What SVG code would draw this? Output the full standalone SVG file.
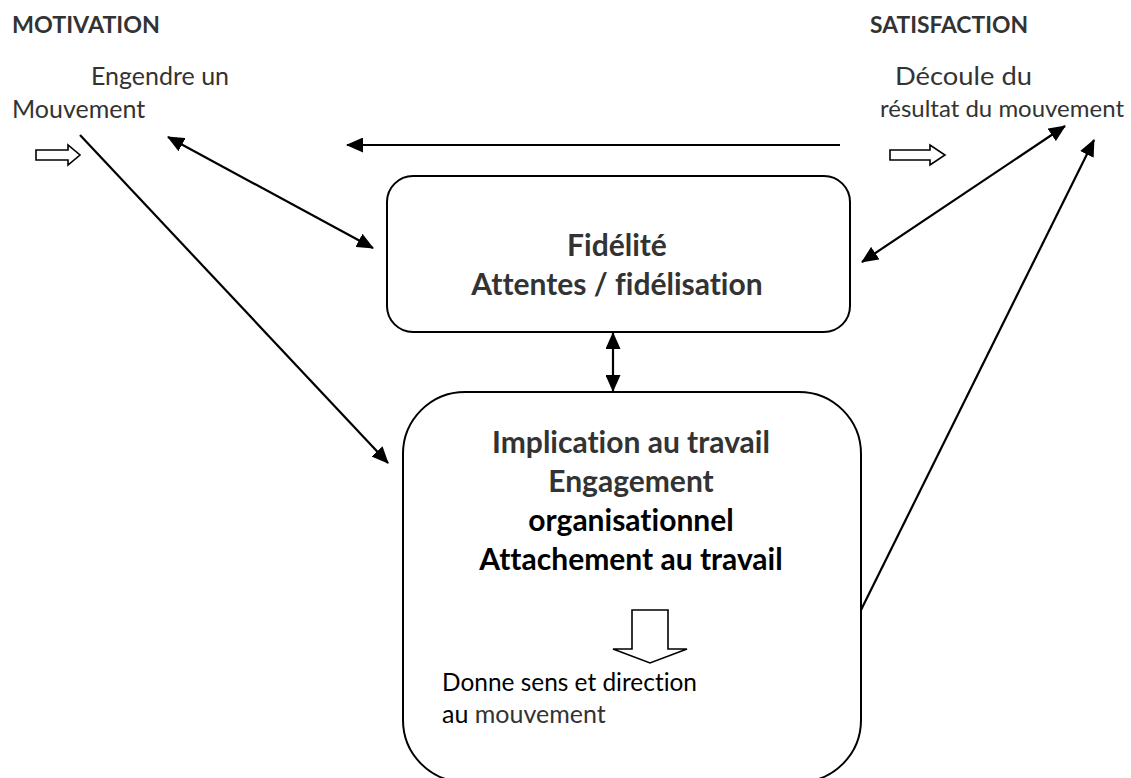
<svg xmlns="http://www.w3.org/2000/svg" width="1131" height="778" viewBox="0 0 1131 778">
<defs>
<marker id="ah" markerUnits="userSpaceOnUse" markerWidth="17" markerHeight="15" refX="16" refY="7.5" orient="auto-start-reverse" viewBox="0 0 17 15">
<path d="M0,0 L17,7.5 L0,15 z" fill="#000"/>
</marker>
</defs>
<style>
text{font-family:Lato,"Open Sans","Liberation Sans",sans-serif;font-variant-ligatures:none}
.h{font-weight:bold;font-size:23.5px;fill:#333}
.r{font-size:25px;fill:#333}
.s{font-size:23.5px}
.b{font-weight:bold;font-size:30px;text-anchor:middle}
.g{fill:#333}
.k{fill:#000}
.box{fill:#fff;stroke:#000;stroke-width:2}
.hollow{fill:#fff;stroke:#000;stroke-width:1.6}
.c{stroke:#000;stroke-width:2.2;fill:none}
</style>
<rect width="1131" height="778" fill="#fff"/>
<g id="motivation">
<text class="h" x="12" y="33" textLength="148" lengthAdjust="spacingAndGlyphs">MOTIVATION</text>
<text class="r" x="91" y="85">Engendre un</text>
<text class="r" x="12" y="118">Mouvement</text>
<polygon class="hollow" points="36,150 68,150 68,145 80,155 68,165 68,160 36,160"/>
</g>
<g id="satisfaction">
<text class="h" x="870" y="33" textLength="158" lengthAdjust="spacingAndGlyphs">SATISFACTION</text>
<text class="r" x="895" y="85" textLength="137" lengthAdjust="spacingAndGlyphs">Découle du</text>
<text class="r s" x="880" y="117" textLength="244" lengthAdjust="spacingAndGlyphs">résultat du mouvement</text>
<polygon class="hollow" points="890,150 930,150 930,145 945,155 930,165 930,160 890,160"/>
</g>
<g id="fidelite">
<rect class="box" x="387" y="176" width="463" height="156" rx="26" ry="26"/>
<text class="b g" x="617" y="256">Fidélité</text>
<text class="b g" x="617" y="295">Attentes / fidélisation</text>
</g>
<g id="implication">
<rect class="box" x="403" y="392" width="458" height="390" rx="62" ry="62"/>
<text class="b g" x="631" y="453">Implication au travail</text>
<text class="b g" x="631" y="492">Engagement</text>
<text class="b k" x="631" y="531">organisationnel</text>
<text class="b k" x="631" y="570">Attachement au travail</text>
<polygon class="hollow" points="632,610 668,610 668,649 687,649 650,663 613,649 632,649"/>
<text class="r k" x="442" y="691" textLength="255" lengthAdjust="spacingAndGlyphs">Donne sens et direction</text>
<text class="r k" x="442" y="723">au <tspan class="g">mouvement</tspan></text>
</g>
<g id="connectors">
<line class="c" x1="80" y1="135" x2="388" y2="463" marker-end="url(#ah)"/>
<line class="c" x1="168" y1="137" x2="373" y2="248" marker-start="url(#ah)" marker-end="url(#ah)"/>
<line class="c" x1="840" y1="145" x2="347" y2="145" marker-end="url(#ah)"/>
<line class="c" x1="862" y1="262" x2="1065" y2="126" marker-start="url(#ah)" marker-end="url(#ah)"/>
<line class="c" x1="861" y1="610" x2="1094" y2="140" marker-end="url(#ah)"/>
<line class="c" x1="613" y1="333" x2="613" y2="391" marker-start="url(#ah)" marker-end="url(#ah)"/>
</g>
</svg>
